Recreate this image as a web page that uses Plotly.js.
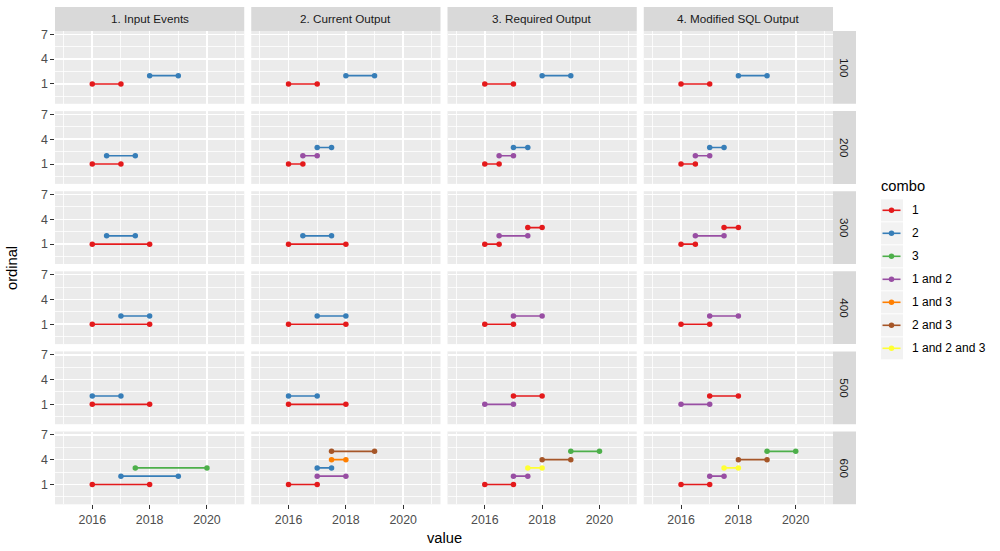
<!DOCTYPE html>
<html>
<head>
<meta charset="utf-8">
<script src="https://cdn.plot.ly/plotly-3.0.1.min.js"></script>
<style>
  html, body { margin: 0; padding: 0; background: #ffffff; }
  #chart { width: 1000px; height: 551px; }
</style>
</head>
<body>
<div id="chart"></div>
<script>
// Facet labels
const groups = [100, 200, 300, 400, 500, 600];
const stages = ['1. Input Events', '2. Current Output', '3. Required Output', '4. Modified SQL Output'];
const combos = ['1', '2', '3', '1 and 2', '1 and 3', '2 and 3', '1 and 2 and 3'];
const comboColors = ['#E41A1C', '#377EB8', '#4DAF4A', '#984EA3', '#FF7F00', '#A65628', '#FFFF33'];

// Axis breaks
const xTicks = [2016, 2018, 2020];
const xMinor = [2015, 2017, 2019, 2021];
const yTicks = [1, 4, 7];
const yMinor = [-0.5, 2.5, 5.5];

// One entry per segment (each line below is one facet panel)
const segGroup = [
  100, 100,  100, 100,  100, 100,  100, 100,
  200, 200,  200, 200, 200,  200, 200, 200,  200, 200, 200,
  300, 300,  300, 300,  300, 300, 300,  300, 300, 300,
  400, 400,  400, 400,  400, 400,  400, 400,
  500, 500,  500, 500,  500, 500,  500, 500,
  600, 600, 600,  600, 600, 600, 600, 600,  600, 600, 600, 600, 600,  600, 600, 600, 600, 600
];
const segStage = [
  0, 0,  1, 1,  2, 2,  3, 3,
  0, 0,  1, 1, 1,  2, 2, 2,  3, 3, 3,
  0, 0,  1, 1,  2, 2, 2,  3, 3, 3,
  0, 0,  1, 1,  2, 2,  3, 3,
  0, 0,  1, 1,  2, 2,  3, 3,
  0, 0, 0,  1, 1, 1, 1, 1,  2, 2, 2, 2, 2,  3, 3, 3, 3, 3
];
const segCombo = [
  '1', '2',  '1', '2',  '1', '2',  '1', '2',
  '1', '2',  '1', '1 and 2', '2',  '1', '1 and 2', '2',  '1', '1 and 2', '2',
  '1', '2',  '1', '2',  '1', '1 and 2', '1',  '1', '1 and 2', '1',
  '1', '2',  '1', '2',  '1', '1 and 2',  '1', '1 and 2',
  '1', '2',  '1', '2',  '1 and 2', '1',  '1 and 2', '1',
  '1', '2', '3',
  '1', '1 and 2', '2', '1 and 3', '2 and 3',
  '1', '1 and 2', '1 and 2 and 3', '2 and 3', '3',
  '1', '1 and 2', '1 and 2 and 3', '2 and 3', '3'
];
const segStart = [
  2016, 2018,  2016, 2018,  2016, 2018,  2016, 2018,
  2016, 2016.5,  2016, 2016.5, 2017,  2016, 2016.5, 2017,  2016, 2016.5, 2017,
  2016, 2016.5,  2016, 2016.5,  2016, 2016.5, 2017.5,  2016, 2016.5, 2017.5,
  2016, 2017,  2016, 2017,  2016, 2017,  2016, 2017,
  2016, 2016,  2016, 2016,  2016, 2017,  2016, 2017,
  2016, 2017, 2017.5,
  2016, 2017, 2017, 2017.5, 2017.5,
  2016, 2017, 2017.5, 2018, 2019,
  2016, 2017, 2017.5, 2018, 2019
];
const segEnd = [
  2017, 2019,  2017, 2019,  2017, 2019,  2017, 2019,
  2017, 2017.5,  2016.5, 2017, 2017.5,  2016.5, 2017, 2017.5,  2016.5, 2017, 2017.5,
  2018, 2017.5,  2018, 2017.5,  2016.5, 2017.5, 2018,  2016.5, 2017.5, 2018,
  2018, 2018,  2018, 2018,  2017, 2018,  2017, 2018,
  2018, 2017,  2018, 2017,  2017, 2018,  2017, 2018,
  2018, 2019, 2020,
  2017, 2018, 2017.5, 2018, 2019,
  2017, 2017.5, 2018, 2019, 2020,
  2017, 2017.5, 2018, 2019, 2020
];
const segOrdinal = [
  1, 2,  1, 2,  1, 2,  1, 2,
  1, 2,  1, 2, 3,  1, 2, 3,  1, 2, 3,
  1, 2,  1, 2,  1, 2, 3,  1, 2, 3,
  1, 2,  1, 2,  1, 2,  1, 2,
  1, 2,  1, 2,  1, 2,  1, 2,
  1, 2, 3,
  1, 2, 3, 4, 5,
  1, 2, 3, 4, 5,
  1, 2, 3, 4, 5
];

// Page geometry (pixels)
const W = 1000, H = 551;
const panelLeft = 55, panelW = 189.25, gapX = 7;
const panelTop = 31, panelH = 72.8, gapY = 7.3;
const stripTopH = 24, stripRightW = 23;
const fx = p => p / W;
const fy = p => 1 - p / H;

const FONT = 'Liberation Sans, Arial, sans-serif';
const tickFont = { family: FONT, size: 12.4, color: '#4D4D4D' };
const stripFont = { family: FONT, size: 11.7, color: '#1A1A1A' };
const titleFont = { family: FONT, size: 14.7, color: '#000000' };

const layout = {
  width: W, height: H,
  margin: { l: 0, r: 0, t: 0, b: 0 },
  paper_bgcolor: '#FFFFFF',
  plot_bgcolor: '#EBEBEB',
  showlegend: false,
  shapes: [],
  annotations: []
};

const axisId = n => (n === 1 ? '' : String(n));

groups.forEach((g, r) => {
  stages.forEach((s, c) => {
    const n = r * stages.length + c + 1;
    const x0 = panelLeft + c * (panelW + gapX);
    const y0 = panelTop + r * (panelH + gapY);
    const bottomRow = r === groups.length - 1;
    const leftCol = c === 0;
    layout['xaxis' + axisId(n)] = {
      domain: [fx(x0), fx(x0 + panelW)],
      anchor: 'y' + axisId(n),
      range: [2014.7, 2021.3],
      tickmode: 'array', tickvals: xTicks, ticktext: xTicks.map(String),
      showticklabels: bottomRow,
      ticks: bottomRow ? 'outside' : '',
      ticklen: 3.7, tickwidth: 1, tickcolor: '#333333',
      tickfont: tickFont,
      showgrid: true, gridcolor: '#FFFFFF', gridwidth: 1.6,
      minor: { tickmode: 'array', tickvals: xMinor, showgrid: true, gridcolor: '#FFFFFF', gridwidth: 0.8, ticks: '' },
      zeroline: false, showline: false, fixedrange: true
    };
    layout['yaxis' + axisId(n)] = {
      domain: [fy(y0 + panelH), fy(y0)],
      anchor: 'x' + axisId(n),
      range: [-1.4, 7.4],
      tickmode: 'array', tickvals: yTicks, ticktext: yTicks.map(String),
      showticklabels: leftCol,
      ticks: leftCol ? 'outside' : '',
      ticklen: 3.7, tickwidth: 1, tickcolor: '#333333',
      tickfont: tickFont,
      showgrid: true, gridcolor: '#FFFFFF', gridwidth: 1.6,
      minor: { tickmode: 'array', tickvals: yMinor, showgrid: true, gridcolor: '#FFFFFF', gridwidth: 0.8, ticks: '' },
      zeroline: false, showline: false, fixedrange: true
    };
  });
});

// Column strips
stages.forEach((s, c) => {
  const x0 = panelLeft + c * (panelW + gapX);
  layout.shapes.push({
    type: 'rect', xref: 'paper', yref: 'paper',
    x0: fx(x0), x1: fx(x0 + panelW), y0: fy(panelTop), y1: fy(panelTop - stripTopH),
    fillcolor: '#D9D9D9', line: { width: 0 }
  });
  layout.annotations.push({
    xref: 'paper', yref: 'paper', x: fx(x0 + panelW / 2), y: fy(panelTop - stripTopH / 2),
    text: s, showarrow: false, font: stripFont, xanchor: 'center', yanchor: 'middle'
  });
});

// Row strips
const stripX = panelLeft + stages.length * panelW + (stages.length - 1) * gapX;
groups.forEach((g, r) => {
  const y0 = panelTop + r * (panelH + gapY);
  layout.shapes.push({
    type: 'rect', xref: 'paper', yref: 'paper',
    x0: fx(stripX), x1: fx(stripX + stripRightW), y0: fy(y0 + panelH), y1: fy(y0),
    fillcolor: '#D9D9D9', line: { width: 0 }
  });
  layout.annotations.push({
    xref: 'paper', yref: 'paper', x: fx(stripX + stripRightW / 2), y: fy(y0 + panelH / 2),
    text: String(g), textangle: 90, showarrow: false, font: stripFont,
    xanchor: 'center', yanchor: 'middle'
  });
});

// Axis titles
layout.annotations.push({
  xref: 'paper', yref: 'paper', x: fx(panelLeft + (stripX - panelLeft) / 2), y: fy(538),
  text: 'value', showarrow: false, font: titleFont, xanchor: 'center', yanchor: 'middle'
});
layout.annotations.push({
  xref: 'paper', yref: 'paper', x: fx(12), y: fy(268),
  text: 'ordinal', textangle: -90, showarrow: false, font: titleFont, xanchor: 'center', yanchor: 'middle'
});

// Segments: one line with end points per event
const traces = segGroup.map((g, i) => {
  const r = groups.indexOf(g);
  const n = r * stages.length + segStage[i] + 1;
  const color = comboColors[combos.indexOf(segCombo[i])];
  return {
    type: 'scatter', mode: 'lines+markers',
    x: [segStart[i], segEnd[i]], y: [segOrdinal[i], segOrdinal[i]],
    xaxis: 'x' + axisId(n), yaxis: 'y' + axisId(n),
    line: { color: color, width: 1.6 },
    marker: { color: color, size: 5.5 },
    name: segCombo[i], hoverinfo: 'skip', cliponaxis: false
  };
});

// Legend for combo
const legX0 = 881, legW = 22, legTop = 199.3, legStep = 23;
layout.annotations.push({
  xref: 'paper', yref: 'paper', x: fx(879), y: fy(186),
  text: 'combo', showarrow: false, font: titleFont, xanchor: 'left', yanchor: 'middle'
});
combos.forEach((cb, i) => {
  const top = legTop + i * legStep;
  const mid = top + legStep / 2 - 0.5;
  layout.shapes.push({
    type: 'rect', xref: 'paper', yref: 'paper',
    x0: fx(legX0), x1: fx(legX0 + legW), y0: fy(top + legStep - 1), y1: fy(top),
    fillcolor: '#F2F2F2', line: { width: 0 }
  });
  layout.shapes.push({
    type: 'line', xref: 'paper', yref: 'paper',
    x0: fx(legX0 + 1.5), x1: fx(legX0 + legW - 2.5), y0: fy(mid), y1: fy(mid),
    line: { color: comboColors[i], width: 1.6 }
  });
  layout.shapes.push({
    type: 'circle', xref: 'paper', yref: 'paper',
    x0: fx(legX0 + legW / 2 - 0.5 - 2.75), x1: fx(legX0 + legW / 2 - 0.5 + 2.75),
    y0: fy(mid + 2.75), y1: fy(mid - 2.75),
    fillcolor: comboColors[i], line: { width: 0 }
  });
  layout.annotations.push({
    xref: 'paper', yref: 'paper', x: fx(910), y: fy(mid),
    text: cb, showarrow: false, font: { family: FONT, size: 12, color: '#000000' },
    xanchor: 'left', yanchor: 'middle'
  });
});

Plotly.newPlot('chart', traces, layout, { displayModeBar: false, staticPlot: true });
</script>
</body>
</html>
